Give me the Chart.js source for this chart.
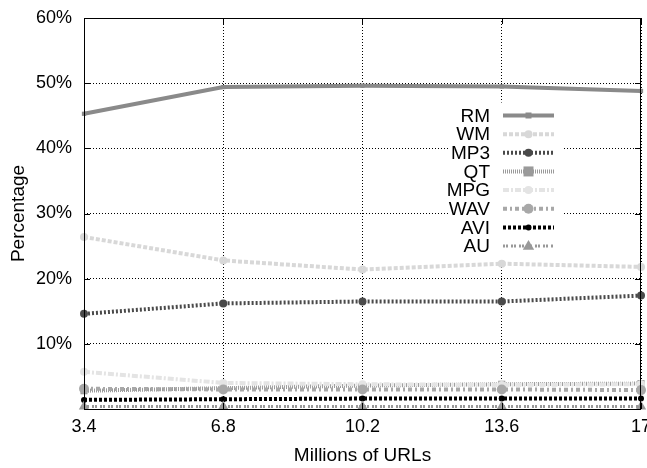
<!DOCTYPE html>
<html>
<head>
<meta charset="utf-8">
<style>
  html, body { margin: 0; padding: 0; background: #fff; overflow: hidden; }
  #wrap { width: 670px; height: 468px; }
</style>
</head>
<body>
<div id="wrap"><canvas id="chart"></canvas></div>
<script src="https://cdn.jsdelivr.net/npm/chart.js@4/dist/chart.umd.min.js"></script>
<script>
// Data (x = millions of URLs, y = percentage)
const urls = [3.4, 6.8, 10.2, 13.6, 17];
const yTicks = [0, 10, 20, 30, 40, 50, 60];
const labels = ['RM', 'WM', 'MP3', 'QT', 'MPG', 'WAV', 'AVI', 'AU'];

const rm  = [45.3, 49.4, 49.6, 49.5, 48.8];
const wm  = [26.4, 22.8, 21.4, 22.3, 21.8];
const mp3 = [14.6, 16.2, 16.5, 16.5, 17.4];
const qt  = [2.8, 3.2, 3.6, 3.8, 3.9];
const mpg = [5.7, 4.0, 3.8, 3.7, 3.8];
const wav = [3.1, 3.0, 3.0, 3.0, 2.9];
const avi = [1.4, 1.5, 1.6, 1.6, 1.6];
const au  = [0.4, 0.4, 0.4, 0.4, 0.4];

const FONT = '"Liberation Sans", Arial, sans-serif';

// line styles, gnuplot-ish grayscale
const styles = [
    { color: '#8a8a8a', width: 4, dash: [],           point: 'rect',     r: 3 },
    { color: '#d8d8d8', width: 4, dash: [4, 2],       point: 'circle',   r: 4 },
    { color: '#4a4a4a', width: 4, dash: [2, 2],       point: 'circle',   r: 4 },
    { color: '#9a9a9a', width: 4, dash: [1, 1],       point: 'rect',     r: 5 },
    { color: '#e4e4e4', width: 4, dash: [6, 2, 2, 2], point: 'circle',   r: 4 },
    { color: '#a8a8a8', width: 4, dash: [4, 3, 2, 3], point: 'circle',   r: 5 },
    { color: '#000000', width: 4, dash: [3, 2],       point: 'circle',   r: 3 },
    { color: '#999999', width: 3, dash: [2, 1, 2, 3], point: 'triangle', r: 6 },
];
const series = [rm, wm, mp3, qt, mpg, wav, avi, au];

const datasets = series.map((vals, i) => ({
    label: labels[i],
    data: vals.map((v, j) => ({ x: urls[j], y: v })),
    borderColor: styles[i].color,
    backgroundColor: styles[i].color,
    borderWidth: styles[i].width,
    borderDash: styles[i].dash,
    pointStyle: styles[i].point,
    pointRadius: styles[i].r,
    pointBorderWidth: 0,
    pointBackgroundColor: styles[i].color,
    tension: 0,
    clip: false,
    order: series.length - i,
}));

function drawMarker(ctx, style, x, y) {
    ctx.save();
    ctx.setLineDash([]);
    ctx.fillStyle = style.color;
    ctx.beginPath();
    if (style.point === 'circle') {
        ctx.arc(x, y, style.r, 0, Math.PI * 2);
    } else if (style.point === 'rect') {
        ctx.rect(x - style.r, y - style.r, style.r * 2, style.r * 2);
    } else {
        const r = style.r;
        ctx.moveTo(x, y - r);
        ctx.lineTo(x + r * 0.95, y + r * 0.6);
        ctx.lineTo(x - r * 0.95, y + r * 0.6);
        ctx.closePath();
    }
    ctx.fill();
    ctx.restore();
}

// box around the plot + small inward tick marks
const framePlugin = {
    id: 'frame',
    afterDatasetsDraw(chart) {
        const { ctx, chartArea: a, scales } = chart;
        ctx.save();
        ctx.strokeStyle = '#000';
        ctx.lineWidth = 1;
        ctx.setLineDash([]);
        ctx.strokeRect(a.left + 0.5, a.top + 0.5, a.right - a.left - 1, a.bottom - a.top);
        ctx.beginPath();
        yTicks.forEach(v => {
            const y = Math.round(scales.y.getPixelForValue(v)) + 0.5;
            ctx.moveTo(a.left, y); ctx.lineTo(a.left + 6, y);
            ctx.moveTo(a.right, y); ctx.lineTo(a.right - 6, y);
        });
        urls.forEach(v => {
            const x = Math.round(scales.x.getPixelForValue(v)) + 0.5;
            ctx.moveTo(x, a.bottom); ctx.lineTo(x, a.bottom - 6);
            ctx.moveTo(x, a.top); ctx.lineTo(x, a.top + 6);
        });
        ctx.stroke();
        ctx.restore();
    }
};

// gnuplot-style key: text right-aligned, sample line to its right, opaque
const keyPlugin = {
    id: 'key',
    afterDraw(chart) {
        const { ctx, chartArea: a } = chart;
        const textRight = a.right - 151;
        const x0 = a.right - 138, x1 = a.right - 87;
        const row0 = a.top + 97.5, step = 18.65;
        ctx.save();
        ctx.fillStyle = '#fff';
        ctx.fillRect(textRight - 40, row0 - 13, (x1 + 9) - (textRight - 40), step * 7 + 26);
        labels.forEach((lab, i) => {
            const y = row0 + i * step;
            const s = styles[i];
            ctx.fillStyle = '#000';
            ctx.font = '19px ' + FONT;
            ctx.textAlign = 'right';
            ctx.textBaseline = 'middle';
            ctx.fillText(lab, textRight, y + 1);
            ctx.strokeStyle = s.color;
            ctx.lineWidth = s.width;
            ctx.setLineDash(s.dash);
            ctx.beginPath();
            ctx.moveTo(x0, y); ctx.lineTo(x1, y);
            ctx.stroke();
            drawMarker(ctx, s, (x0 + x1) / 2, y);
        });
        ctx.restore();
    }
};

const ctx = document.getElementById('chart').getContext('2d');
const chart = new Chart(ctx, {
    type: 'line',
    data: { datasets },
    plugins: [framePlugin, keyPlugin],
    options: {
        responsive: true,
        maintainAspectRatio: false,
        animation: false,
        layout: { padding: { top: 18, right: 29, left: 0, bottom: 0 } },
        plugins: {
            legend: { display: false },
            tooltip: { enabled: false },
        },
        scales: {
            x: {
                type: 'linear',
                min: 3.4,
                max: 17,
                afterBuildTicks: scale => { scale.ticks = urls.map(v => ({ value: v })); },
                afterFit: scale => {
                    scale.height = 59;
                    scale.paddingLeft = 0;
                    scale.paddingRight = 0;
                },
                border: { display: false, dash: [1, 2] },
                grid: { color: '#000', lineWidth: 1, drawTicks: false },
                ticks: {
                    color: '#000',
                    font: { family: FONT, size: 18 },
                    padding: 7,
                    maxRotation: 0,
                    autoSkip: false,
                    callback: v => String(Math.round(v * 10) / 10),
                },
                title: {
                    display: true,
                    text: 'Millions of URLs',
                    color: '#000',
                    font: { family: FONT, size: 19 },
                    padding: { top: 0, bottom: 1 },
                },
            },
            y: {
                min: 0,
                max: 60,
                afterBuildTicks: scale => { scale.ticks = yTicks.map(v => ({ value: v })); },
                afterFit: scale => {
                    scale.width = 84;
                    scale.paddingTop = 0;
                    scale.paddingBottom = 0;
                },
                border: { display: false, dash: [1, 2] },
                grid: { color: '#000', lineWidth: 1, drawTicks: false },
                ticks: {
                    color: '#000',
                    font: { family: FONT, size: 18 },
                    padding: 12,
                    callback: v => (v === 0 ? '' : v + '%'),
                },
                title: {
                    display: true,
                    text: 'Percentage',
                    color: '#000',
                    font: { family: FONT, size: 19 },
                    padding: { top: 7, bottom: 0 },
                },
            },
        },
    },
});
</script>
</body>
</html>
